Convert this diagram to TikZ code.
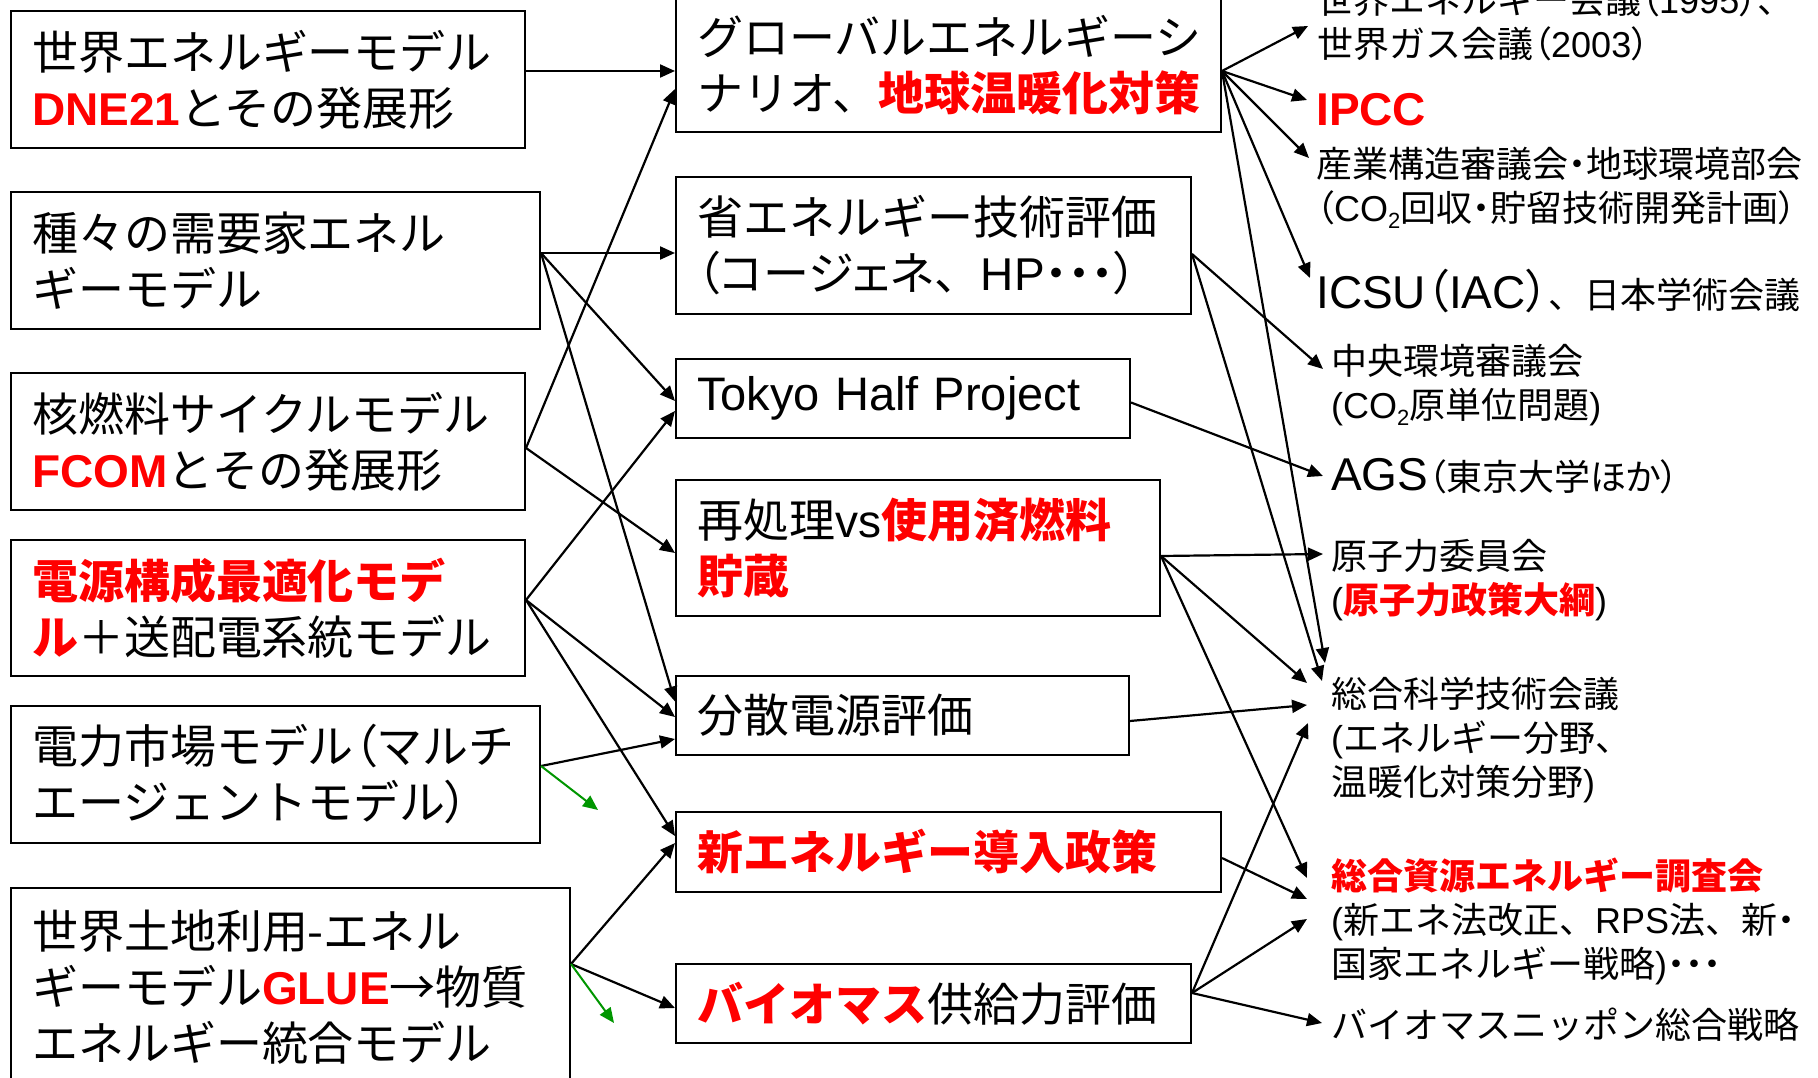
\documentclass[tikz,border=0pt]{standalone}
\usepackage{fontspec}
\setmainfont{Noto Sans CJK JP}
\newfontfamily\arl{Liberation Sans}
\newfontfamily\jpp{Noto Sans CJK JP}[RawFeature=+palt]
\usetikzlibrary{arrows.meta,calc}
\definecolor{rd}{RGB}{255,0,0}
\definecolor{gn}{RGB}{0,150,0}
\newcommand{\rb}[1]{{\color{rd}\bfseries #1}}
\newcommand{\rbl}[1]{{\color{rd}\arl\bfseries #1}}
\newcommand{\subtwo}{\raisebox{-7pt}{\fontsize{22}{22}\selectfont\arl 2}}
\tikzset{
  bx/.style={draw, line width=2pt, inner xsep=21pt, inner ysep=0pt, anchor=north west, align=left, font=\fontsize{46}{56}\selectfont},
  rt/.style={inner sep=0pt, align=left, font=\fontsize{36}{44}\selectfont},
  arr/.style={line width=2.2pt, -{Triangle[length=15pt,width=13pt]}},
  garr/.style={line width=2pt, draw=gn, -{Triangle[length=15pt,width=13pt]}, color=gn}
}
\begin{document}
\begin{tikzpicture}[x=1pt,y=-1pt]
\useasboundingbox[fill=white] (0,0) rectangle (1818,1078);

% left column
\node[bx, text width=472pt, minimum height=137pt] (L1) at (10,10) {世界エネルギーモデル\\\rbl{DNE21}とその発展形};
\node[bx, text width=487pt, minimum height=137pt] (L2) at (10,191) {種々の需要家エネル\\ギーモデル};
\node[bx, text width=472pt, minimum height=137pt] (L3) at (10,372) {核燃料サイクルモデル\\\rbl{FCOM}とその発展形};
\node[bx, text width=472pt, minimum height=136pt] (L4) at (10,539) {\rb{電源構成最適化モデ}\\\rb{ル}＋送配電系統モデル};
\node[bx, text width=487pt, minimum height=137pt] (L5) at (10,705) {電力市場モデル{\jpp（}マルチ\\エージェントモデル{\jpp）}};
\node[bx, text width=517pt, minimum height=198pt] (L6) at (10,887) {世界土地利用-エネル\\ギーモデル\rbl{GLUE}→物質\\エネルギー統合モデル};

% middle column
\node[bx, text width=503pt, minimum height=134pt] (M1) at (675,-3) {グローバルエネルギーシ\\ナリオ、\rb{地球温暖化対策}};
\node[bx, text width=473pt, minimum height=137pt] (M2) at (675,176) {省エネルギー技術評価\\{\jpp（コージェネ}、{\arl HP}{\jpp・・・）}};
\node[bx, text width=412pt, minimum height=79pt] (M3) at (675,358) {\arl\fontsize{47}{56}\selectfont Tokyo Half Project};
\node[bx, text width=442pt, minimum height=136pt] (M4) at (675,479) {再処理{\arl vs}\rb{使用済燃料}\\\rb{貯蔵}};
\node[bx, text width=411pt, minimum height=79pt] (M5) at (675,675) {分散電源評価};
\node[bx, text width=503pt, minimum height=80pt] (M6) at (675,811) {\rb{新エネルギー導入政策}};
\node[bx, text width=473pt, minimum height=79pt] (M7) at (675,963) {\rb{バイオマス}供給力評価};

% right column texts
\node[rt, anchor=west] (R1) at (1317,21.5) {世界エネルギー会議{\jpp（}{\arl 1995}{\jpp）}、\\世界ガス会議{\jpp（}{\arl 2003}{\jpp）}};
\node[rt, anchor=west] (R2) at (1316,110) {\rbl{\fontsize{46}{46}\selectfont IPCC}};
\node[rt, anchor=west] (R3) at (1316,188) {産業構造審議会{\jpp・}地球環境部会\\{\jpp（}{\arl CO}\subtwo 回収{\jpp・}貯留技術開発計画{\jpp）}};
\node[rt, anchor=base west] (R4) at (1316,308) {{\fontsize{46}{46}\selectfont\arl ICSU{\jpp（}IAC{\jpp）}}、日本学術会議};
\node[rt, anchor=west] (R5) at (1331,385) {中央環境審議会\\{\arl(CO}\subtwo 原単位問題{\arl)}};
\node[rt, anchor=base west] (R6) at (1331,490) {{\fontsize{46}{46}\selectfont\arl AGS}{\jpp（東京大学ほか）}};
\node[rt, anchor=west] (R7) at (1331,580) {原子力委員会\\{\arl(}\rb{原子力政策大綱}{\arl)}};
\node[rt, anchor=west] (R8) at (1331,740) {総合科学技術会議\\{\arl(}エネルギー分野、\\温暖化対策分野{\arl)}};
\node[rt, anchor=west] (R9) at (1331,921) {\rb{総合資源エネルギー調査会}\\{\arl(}新エネ法改正、{\arl RPS}法、新{\jpp・}\\国家エネルギー戦略{\arl)}{\jpp・・・}};
\node[rt, anchor=west] (R10) at (1331,1025) {バイオマスニッポン総合戦略};

\coordinate (g1) at (598,810);
\coordinate (g2) at (614,1023);

% left -> middle
\draw[arr] ($(L1.east)+(0,-8.5)$) -- ($(M1.west)+(0,6)$);
\draw[arr] ($(L2.east)+(0,-7.5)$) -- ($(M2.west)+(0,7.5)$);
\draw[arr] ($(L2.east)+(0,-7.5)$) -- ($(M3.west)+(0,2.5)$);
\draw[arr] ($(L2.east)+(0,-7.5)$) -- ($(M5.west)+(0,-14)$);
\draw[arr] ($(L3.east)+(0,6.5)$) -- ($(M1.west)+(0,24)$);
\draw[arr] ($(L3.east)+(0,6.5)$) -- ($(M4.west)+(0,5)$);
\draw[arr] ($(L4.east)+(0,-8)$) -- ($(M3.west)+(0,12.5)$);
\draw[arr] ($(L4.east)+(0,-8)$) -- ($(M5.west)+(0,1.5)$);
\draw[arr] ($(L4.east)+(0,-8)$) -- ($(M6.west)+(0,-16)$);
\draw[arr] ($(L5.east)+(0,-8.5)$) -- ($(M5.west)+(0,23.5)$);
\draw[garr] ($(L5.east)+(0,-8.5)$) -- (g1);
\draw[arr] ($(L6.east)+(0,-23)$) -- ($(M6.west)+(0,-9)$);
\draw[arr] ($(L6.east)+(0,-23)$) -- ($(M7.west)+(0,4.5)$);
\draw[garr] ($(L6.east)+(0,-23)$) -- (g2);

% middle -> right
\draw[arr] ($(M1.east)+(0,6)$) -- ($(R1.west)+(-9,4.5)$);
\draw[arr] ($(M1.east)+(0,6)$) -- ($(R2.west)+(-9,-10)$);
\draw[arr] ($(M1.east)+(0,6)$) -- ($(R3.west)+(-7,-30)$);
\draw[arr] ($(M1.east)+(0,6)$) -- ($(R4.base west)+(-6,-30)$);
\draw[arr] ($(M1.east)+(0,6)$) -- ($(R8.west)+(-6,-77)$);
\draw[arr] ($(M2.east)+(0,8.5)$) -- ($(R5.west)+(-8,-16)$);
\draw[arr] ($(M2.east)+(0,8.5)$) -- ($(R8.west)+(-9,-59)$);
\draw[arr] ($(M3.east)+(0,4)$) -- ($(R6.base west)+(-8,-14)$);
\draw[arr] ($(M4.east)+(0,8)$) -- ($(R7.west)+(-8,-26)$);
\draw[arr] ($(M4.east)+(0,8)$) -- ($(R8.west)+(-24,-57)$);
\draw[arr] ($(M4.east)+(0,8)$) -- ($(R9.west)+(-24,-43)$);
\draw[arr] ($(M5.east)+(0,5.5)$) -- ($(R8.west)+(-24,-35)$);
\draw[arr] ($(M6.east)+(0,6)$) -- ($(R9.west)+(-24,-22)$);
\draw[arr] ($(M7.east)+(0,-10.5)$) -- ($(R8.west)+(-23,-17)$);
\draw[arr] ($(M7.east)+(0,-10.5)$) -- ($(R9.west)+(-24,-2)$);
\draw[arr] ($(M7.east)+(0,-10.5)$) -- ($(R10.west)+(-9,-2)$);
\end{tikzpicture}
\end{document}
